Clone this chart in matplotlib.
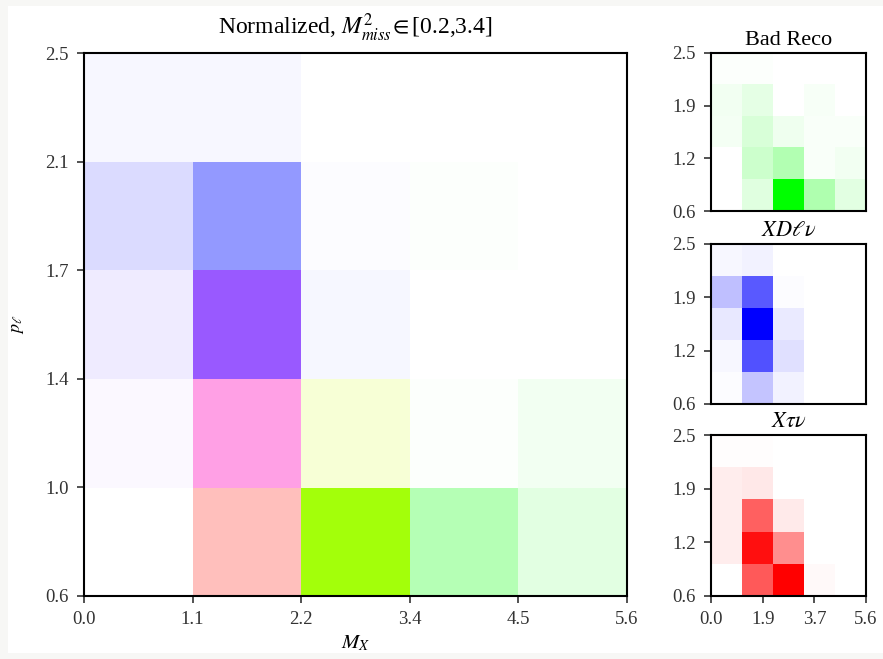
import numpy as np
import matplotlib.pyplot as plt
from matplotlib.patches import Rectangle

plt.rcParams['font.family'] = ['Liberation Serif', 'DejaVu Serif']
plt.rcParams['mathtext.fontset'] = 'stix'

# bin edges
mx_edges = np.linspace(0.0, 5.6, 6)
pl_edges = np.linspace(0.6, 2.5, 6)

# small panels: relative yield per bin (rows = p_l bins bottom->top, cols = M_X bins)
bad_reco = np.array([
    [0.00, 0.12, 1.00, 0.31, 0.11],
    [0.00, 0.20, 0.30, 0.02, 0.05],
    [0.04, 0.15, 0.06, 0.02, 0.02],
    [0.05, 0.10, 0.00, 0.03, 0.00],
    [0.01, 0.01, 0.00, 0.00, 0.00],
])
xdlnu = np.array([
    [0.01, 0.23, 0.05, 0.00, 0.00],
    [0.03, 0.68, 0.12, 0.00, 0.00],
    [0.09, 1.00, 0.08, 0.00, 0.00],
    [0.25, 0.65, 0.01, 0.00, 0.00],
    [0.03, 0.05, 0.00, 0.00, 0.00],
])
xtaunu = np.array([
    [0.00, 0.65, 1.00, 0.02, 0.00],
    [0.07, 0.94, 0.44, 0.00, 0.00],
    [0.07, 0.62, 0.08, 0.00, 0.00],
    [0.07, 0.09, 0.00, 0.00, 0.00],
    [0.005, 0.005, 0.00, 0.00, 0.00],
])

# main panel: normalized fractions per channel
norm_tau = np.array([
    [0.00, 0.26, 0.60, 0.00, 0.00],
    [0.01, 0.37, 0.13, 0.00, 0.00],
    [0.015, 0.25, 0.00, 0.00, 0.00],
    [0.00, 0.00, 0.00, 0.00, 0.00],
    [0.00, 0.00, 0.00, 0.00, 0.00],
])
norm_bad = np.array([
    [0.00, 0.01, 0.96, 0.29, 0.11],
    [0.00, 0.00, 0.16, 0.01, 0.05],
    [0.00, 0.00, 0.005, 0.00, 0.00],
    [0.00, 0.02, 0.00, 0.01, 0.00],
    [0.00, 0.00, 0.00, 0.00, 0.00],
])
norm_dlv = np.array([
    [0.00, 0.00, 0.00, 0.00, 0.00],
    [0.025, 0.27, 0.00, 0.00, 0.00],
    [0.075, 0.65, 0.035, 0.00, 0.00],
    [0.14, 0.42, 0.01, 0.00, 0.00],
    [0.03, 0.03, 0.00, 0.00, 0.00],
])


def mono(vals, rgb):
    rgb = np.array(rgb, dtype=float)
    v = np.clip(vals, 0, 1)[..., None]
    return 1 - v * (1 - rgb)


def composite(r, g, b):
    stack = np.stack([r, g, b], axis=-1)
    m = stack.max(axis=-1, keepdims=True)
    return np.clip(1 - m + stack, 0, 1)


fig = plt.figure(figsize=(8.83, 6.59), dpi=100, facecolor='#f7f7f5')
fig.patches.append(Rectangle((8 / 883, 6 / 659), 1, 647 / 659, transform=fig.transFigure,
                             facecolor='white', edgecolor='none', zorder=-10))

W, H = 883, 659
ext = [mx_edges[0], mx_edges[-1], pl_edges[0], pl_edges[-1]]

ax = fig.add_axes([84 / W, 1 - 596 / H, 543 / W, 543 / H])
ax.imshow(composite(norm_tau, norm_bad, norm_dlv), origin='lower', extent=ext,
          aspect='auto', interpolation='nearest')
ax.set_xticks(mx_edges)
ax.set_xticklabels(['%.1f' % v for v in mx_edges])
ax.set_yticks(pl_edges)
ax.set_yticklabels(['%.1f' % v for v in pl_edges])
ax.set_title(r'Normalized, $M^2_{miss}\!\in$[0.2,3.4]', fontsize=17, pad=13)
ax.set_xlabel(r'$M_X$', fontsize=15, labelpad=4)
ax.set_ylabel(r'$p_\ell$', fontsize=13, labelpad=14)

small = [
    (bad_reco, (0, 1, 0), 'Bad Reco', 53, 211),
    (xdlnu, (0, 0, 1), r'$XD\ell\nu$', 244, 404),
    (xtaunu, (1, 0, 0), r'$X\tau\nu$', 435, 596),
]
for i, (vals, col, title, top, bot) in enumerate(small):
    a = fig.add_axes([711 / W, 1 - bot / H, 155 / W, (bot - top) / H])
    a.imshow(mono(vals, col), origin='lower', extent=ext, aspect='auto',
             interpolation='nearest')
    yt = np.linspace(pl_edges[0], pl_edges[-1], 4)
    a.set_yticks(yt)
    a.set_yticklabels(['%.1f' % v for v in yt])
    xt = np.linspace(mx_edges[0], mx_edges[-1], 4)
    if i == 2:
        a.set_xticks(xt)
        a.set_xticklabels(['%.1f' % v for v in xt])
    else:
        a.set_xticks([])
    a.set_title(title, fontsize=16, pad=6)

for a in fig.axes:
    for s in a.spines.values():
        s.set_linewidth(1.5)
    a.tick_params(labelsize=13.5, width=1.2, length=5, pad=6, colors='#333333')

fig.savefig('out.png', dpi=100, facecolor=fig.get_facecolor())
